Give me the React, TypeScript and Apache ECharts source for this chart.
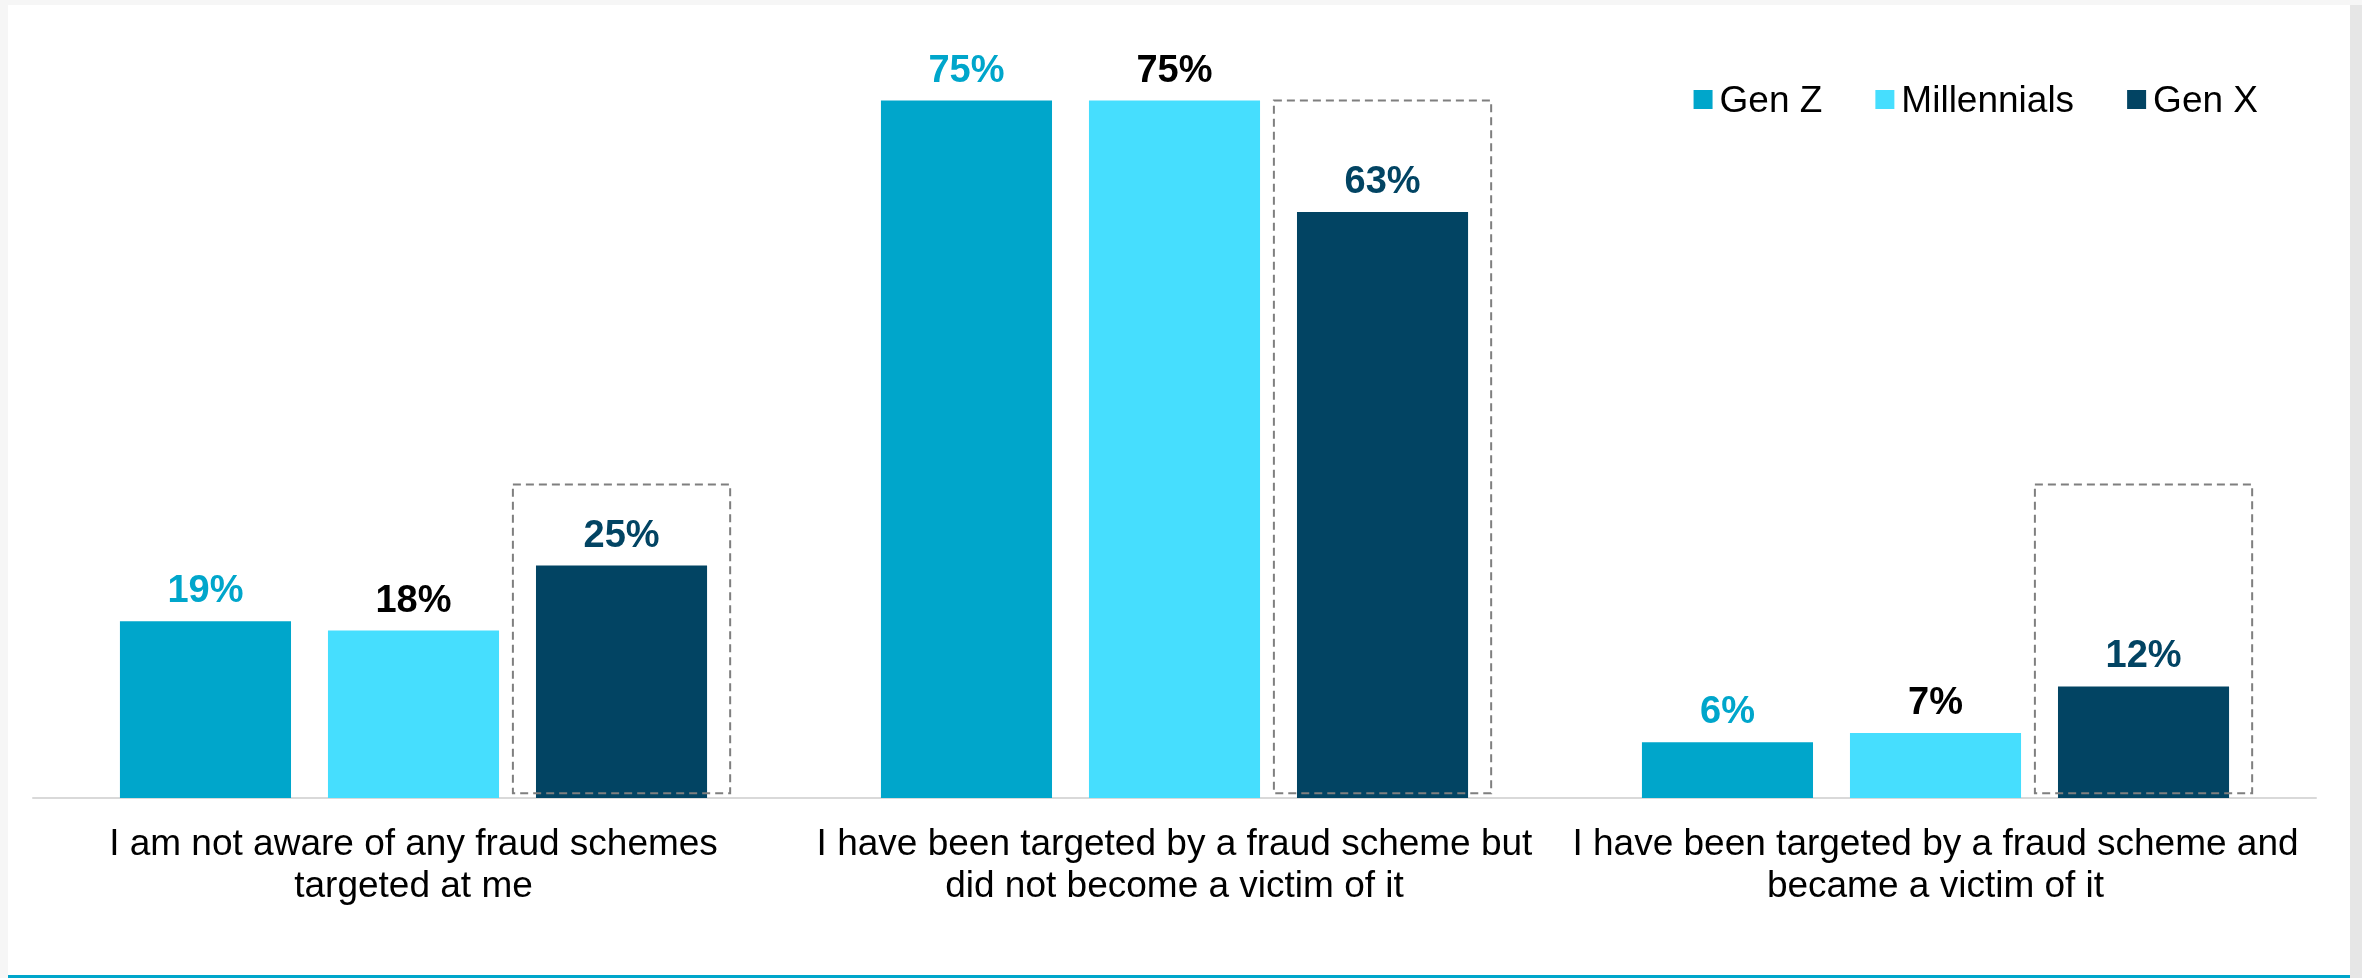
import React, { useEffect, useRef } from 'react';
import * as echarts from 'echarts';

const categories = [
  'I am not aware of any fraud schemes\ntargeted at me',
  'I have been targeted by a fraud scheme but\ndid not become a victim of it',
  'I have been targeted by a fraud scheme and\nbecame a victim of it',
];
const seriesNames = ['Gen Z', 'Millennials', 'Gen X'];
const genZ = [19, 75, 6];
const millennials = [18, 75, 7];
const genX = [25, 63, 12];
// dashed highlight boxes around the Gen X bars (top / bottom in % units)
const highlightTop = [33.7, 75, 33.7];
const highlightBottom = [0.5, 0.5, 0.5];

const COLORS = { genZ: '#00A6CB', mill: '#46DEFE', genX: '#024463' };
const FONT = '"Liberation Sans", Arial, sans-serif';
const BAR_W_RATIO = 0.2248;
const BAR_GAP_RATIO = 0.216;

export default function App() {
  const ref = useRef<HTMLDivElement>(null);

  useEffect(() => {
    if (!ref.current) return;
    const chart = echarts.init(ref.current, null, { renderer: 'svg' });
    const W = 2362;
    const H = 978;

    const labelFor = (color: string) => ({
      show: true,
      position: 'top',
      distance: 13,
      formatter: '{c}%',
      color,
      fontFamily: FONT,
      fontWeight: 'bold',
      fontSize: 38,
      lineHeight: 38,
    });

    const option: any = {
      animation: false,
      backgroundColor: 'transparent',
      graphic: [
        { type: 'rect', z: -10, silent: true, shape: { x: 0, y: 0, width: W, height: H }, style: { fill: '#f6f6f6' } },
        { type: 'rect', z: -9, silent: true, shape: { x: 2350, y: 5, width: 12, height: H - 5 }, style: { fill: '#e6e6e6' } },
        { type: 'rect', z: -8, silent: true, shape: { x: 8, y: 5, width: 2342, height: 970 }, style: { fill: '#ffffff' } },
        { type: 'rect', z: -8, silent: true, shape: { x: 8, y: 975, width: 2342, height: 3 }, style: { fill: '#00A6CB' } },
      ],
      legend: {
        data: seriesNames,
        right: 104,
        top: 81,
        padding: 0,
        itemWidth: 19,
        itemHeight: 19,
        itemGap: 53,
        icon: 'rect',
        textStyle: { fontFamily: FONT, fontSize: 37, color: '#000', padding: [0, 0, 0, 2] },
      },
      grid: { left: 33, right: 46, top: 54, bottom: 180, containLabel: false },
      xAxis: {
        type: 'category',
        data: categories,
        axisLine: { show: true, lineStyle: { color: '#d9d9d9', width: 2 } },
        axisTick: { show: false },
        axisLabel: {
          interval: 0,
          margin: 23,
          fontFamily: FONT,
          fontSize: 37,
          lineHeight: 42,
          color: '#000',
          align: 'center',
        },
      },
      yAxis: {
        type: 'value',
        min: 0,
        max: 80,
        show: false,
        splitLine: { show: false },
      },
      series: [
        {
          name: 'Gen Z',
          type: 'bar',
          data: genZ,
          barWidth: (BAR_W_RATIO * 100).toFixed(2) + '%',
          barGap: (BAR_GAP_RATIO * 100).toFixed(1) + '%',
          itemStyle: { color: COLORS.genZ },
          label: labelFor(COLORS.genZ),
        },
        {
          name: 'Millennials',
          type: 'bar',
          data: millennials,
          barWidth: (BAR_W_RATIO * 100).toFixed(2) + '%',
          barGap: (BAR_GAP_RATIO * 100).toFixed(1) + '%',
          itemStyle: { color: COLORS.mill },
          label: labelFor('#000000'),
        },
        {
          name: 'Gen X',
          type: 'bar',
          data: genX,
          barWidth: (BAR_W_RATIO * 100).toFixed(2) + '%',
          barGap: (BAR_GAP_RATIO * 100).toFixed(1) + '%',
          itemStyle: { color: COLORS.genX },
          label: labelFor(COLORS.genX),
        },
        {
          name: 'highlight',
          type: 'custom',
          silent: true,
          z: 10,
          clip: false,
          encode: { x: 0, y: 1 },
          data: highlightTop.map((t, i) => [i, t, highlightBottom[i]]),
          renderItem: (params: any, api: any) => {
            const idx = api.value(0);
            const top = api.coord([idx, api.value(1)]);
            const bot = api.coord([idx, api.value(2)]);
            const band = api.size([1, 0])[0];
            const barW = band * BAR_W_RATIO;
            const cx = top[0] + barW * (1 + BAR_GAP_RATIO);
            const w = barW * 1.27;
            return {
              type: 'rect',
              shape: { x: cx - w / 2, y: top[1], width: w, height: bot[1] - top[1] },
              style: { fill: 'none', stroke: '#7f7f7f', lineWidth: 2, lineDash: [8, 5] },
            };
          },
        },
      ],
    };

    chart.setOption(option);
    return () => chart.dispose();
  }, []);

  return (
    <div
      ref={ref}
      style={{ position: 'fixed', left: 0, top: 0, width: 2362, height: 978 }}
    />
  );
}
